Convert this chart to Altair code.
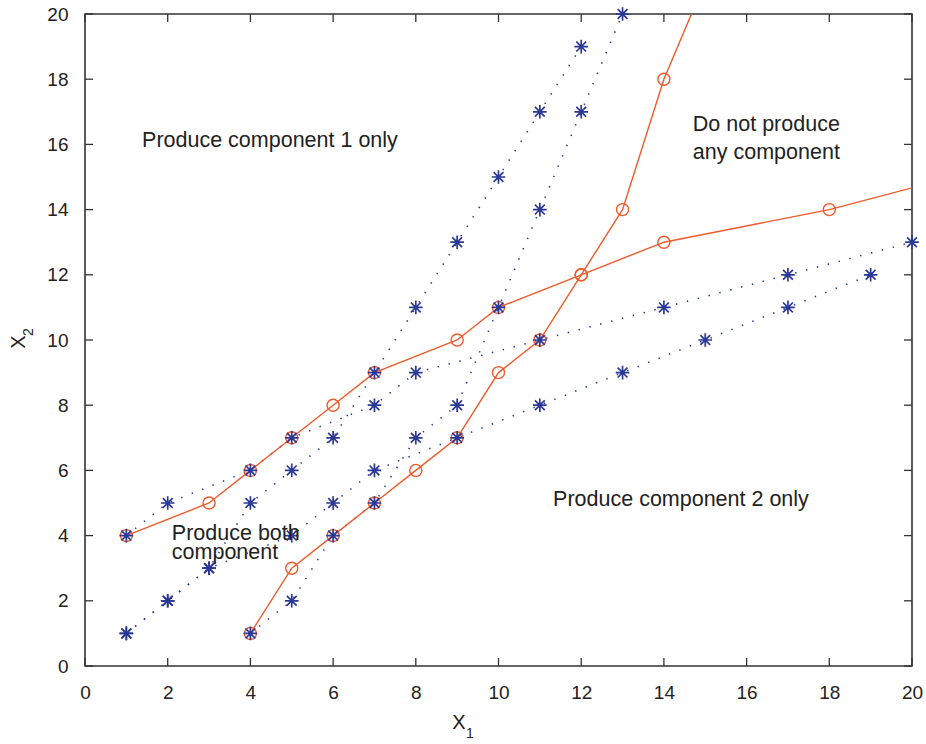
import altair as alt
import pandas as pd

# ---- data ----
red_a_x = [1, 3, 4, 5, 6, 7, 9, 10, 12, 14, 18, 21]
red_a_y = [4, 5, 6, 7, 8, 9, 10, 11, 12, 13, 14, 15]
red_b_x = [4, 5, 6, 7, 8, 9, 10, 11, 12, 13, 14, 15]
red_b_y = [1, 3, 4, 5, 6, 7, 9, 10, 12, 14, 18, 21]

blue_l1_x = [1, 2, 4, 5, 7, 8, 11, 14, 17, 20]
blue_l1_y = [4, 5, 6, 7, 8, 9, 10, 11, 12, 13]
blue_s2_x = [4, 5, 6, 7, 8, 9, 10, 11, 12, 13]
blue_s2_y = [1, 2, 4, 5, 7, 8, 11, 14, 17, 20]
blue_l2_x = [1, 2, 3, 5, 6, 7, 9, 11, 13, 15, 17, 19]
blue_l2_y = [1, 2, 3, 4, 5, 6, 7, 8, 9, 10, 11, 12]
blue_s1_x = [1, 2, 3, 4, 5, 6, 7, 8, 9, 10, 11, 12]
blue_s1_y = [1, 2, 3, 5, 6, 7, 9, 11, 13, 15, 17, 19]

tick_values = [0, 2, 4, 6, 8, 10, 12, 14, 16, 18, 20]

label_text = ["Produce component 1 only", "Do not produce", "any component",
              "Produce both", "component", "Produce component 2 only"]
label_x = [1.38, 14.70, 14.70, 2.10, 2.10, 11.32]
label_y = [15.92, 16.41, 15.55, 3.87, 3.28, 4.91]

# ---- tables ----
def series(name, xs, ys):
    return pd.DataFrame({"s": name, "x": xs, "y": ys, "o": range(len(xs))})

red = pd.concat([series("a", red_a_x, red_a_y), series("b", red_b_x, red_b_y)])
blue = pd.concat([series("l1", blue_l1_x, blue_l1_y), series("s2", blue_s2_x, blue_s2_y),
                  series("l2", blue_l2_x, blue_l2_y), series("s1", blue_s1_x, blue_s1_y)])
labels = pd.DataFrame({"t": label_text, "x": label_x, "y": label_y})
ticks = pd.DataFrame({"v": tick_values})

W, H = 827, 652
RED = "#EF5A2A"
BLUE = "#2B3896"
FONT = "Liberation Sans"
TL = 8

xs = alt.Scale(domain=[0, 20], nice=False, zero=False)
ys = alt.Scale(domain=[0, 20], nice=False, zero=False)
xax = alt.Axis(values=tick_values, ticks=False, tickSize=0, domain=False, grid=False,
               labelFont=FONT, labelFontSize=19, labelColor="#222", labelPadding=17,
               title=None, labelFlush=False)
yax = alt.Axis(values=tick_values, ticks=False, tickSize=0, domain=False, grid=False,
               labelFont=FONT, labelFontSize=19, labelColor="#222", labelPadding=17,
               title=None)

X = alt.X("x:Q", scale=xs, axis=xax)
Y = alt.Y("y:Q", scale=ys, axis=yax)

blue_lines = alt.Chart(blue).mark_line(
    color=BLUE, strokeWidth=1.6, strokeDash=[1.4, 9.8], strokeCap="butt", clip=True
).encode(x=X, y=Y, detail="s:N", order="o:Q")

red_lines = alt.Chart(red).mark_line(color=RED, strokeWidth=1.4, clip=True).encode(
    x=X, y=Y, detail="s:N", order="o:Q")

red_pts = alt.Chart(red).transform_filter("datum.x <= 20 && datum.y <= 20").mark_point(
    shape="circle", filled=False, color=RED, size=145, strokeWidth=1.4, opacity=1
).encode(x=X, y=Y)

star = "M-1,0L1,0M0,-1L0,1M-0.72,-0.72L0.72,0.72M-0.72,0.72L0.72,-0.72"
blue_pts = alt.Chart(blue).mark_point(
    shape=star, filled=False, color=BLUE, size=185, strokeWidth=1.7, opacity=1
).encode(x=X, y=Y)

texts = alt.Chart(labels).mark_text(
    align="left", baseline="alphabetic", font=FONT, fontSize=21.5, color="#222"
).encode(x=X, y=Y, text="t:N")

tick_style = dict(color="#333", strokeWidth=1.3)
t_bottom = alt.Chart(ticks).mark_rule(**tick_style).encode(
    x=alt.X("v:Q", scale=xs, axis=xax), y=alt.value(H), y2=alt.value(H - TL))
t_top = alt.Chart(ticks).mark_rule(**tick_style).encode(
    x=alt.X("v:Q", scale=xs, axis=xax), y=alt.value(0), y2=alt.value(TL))
t_left = alt.Chart(ticks).mark_rule(**tick_style).encode(
    y=alt.Y("v:Q", scale=ys, axis=yax), x=alt.value(0), x2=alt.value(TL))
t_right = alt.Chart(ticks).mark_rule(**tick_style).encode(
    y=alt.Y("v:Q", scale=ys, axis=yax), x=alt.value(W), x2=alt.value(W - TL))

title_main = ["X"]
title_x_sub = ["1"]
title_y_sub = ["2"]

xt = alt.Chart(pd.DataFrame({"t": title_main})).mark_text(
    font=FONT, fontSize=20, color="#222", align="center", baseline="middle"
).encode(x=alt.value(374), y=alt.value(709), text="t:N")
xt_sub = alt.Chart(pd.DataFrame({"t": title_x_sub})).mark_text(
    font=FONT, fontSize=14, color="#222", align="center", baseline="middle"
).encode(x=alt.value(385), y=alt.value(720), text="t:N")
yt = alt.Chart(pd.DataFrame({"t": title_main})).mark_text(
    font=FONT, fontSize=20, color="#222", align="center", baseline="middle", angle=270
).encode(x=alt.value(-66), y=alt.value(328), text="t:N")
yt_sub = alt.Chart(pd.DataFrame({"t": title_y_sub})).mark_text(
    font=FONT, fontSize=14, color="#222", align="center", baseline="middle", angle=270
).encode(x=alt.value(-56), y=alt.value(318), text="t:N")

chart = alt.layer(
    blue_lines, red_lines, red_pts, blue_pts, texts,
    t_bottom, t_top, t_left, t_right, xt, xt_sub, yt, yt_sub
).properties(
    width=W, height=H,
    autosize=alt.AutoSizeParams(type="none"),
    padding={"left": 85, "top": 14, "right": 14, "bottom": 78},
    background="white",
).configure_view(stroke="#333", strokeWidth=1.6)

chart.save("out.html", embed_options={"renderer": "svg", "actions": False})
